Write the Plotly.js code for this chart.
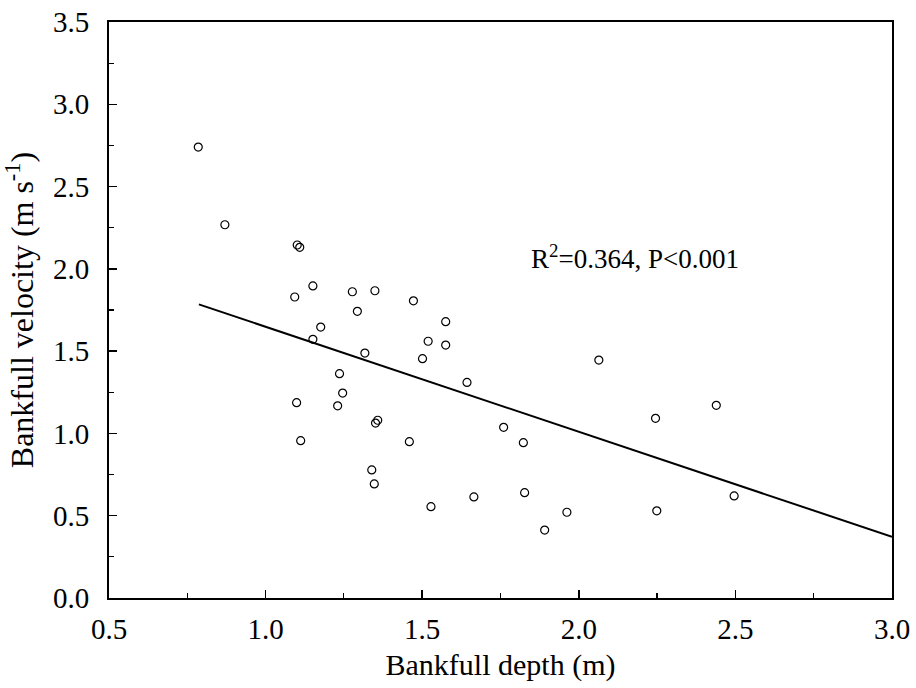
<!DOCTYPE html>
<html>
<head>
<meta charset="utf-8">
<script src="https://cdn.plot.ly/plotly-3.0.1.min.js"></script>
<style>html,body{margin:0;padding:0;background:#fff;}#chart{width:916px;height:688px;}</style>
</head>
<body>
<div id="chart"></div>
<script>
// Observed points
const depth = [0.785, 0.870, 1.101, 1.109, 1.151, 1.093, 1.277, 1.349, 1.472, 1.293,
               1.176, 1.151, 1.575, 1.519, 1.575, 1.317, 1.501, 1.643, 2.064, 1.236,
               1.246, 1.230, 1.099, 1.358, 1.351, 1.112, 1.459, 1.760, 1.823, 2.245,
               2.439, 1.339, 1.347, 1.528, 1.665, 1.827, 1.891, 1.962, 2.249, 2.496];
const velocity = [2.740, 2.268, 2.145, 2.131, 1.896, 1.829, 1.861, 1.867, 1.806, 1.742,
                  1.646, 1.572, 1.679, 1.560, 1.537, 1.488, 1.454, 1.310, 1.446, 1.363,
                  1.245, 1.168, 1.187, 1.080, 1.063, 0.956, 0.950, 1.037, 0.944, 1.092,
                  1.171, 0.778, 0.693, 0.555, 0.614, 0.640, 0.413, 0.521, 0.530, 0.620];
// Regression line end points
const fitX = [0.787, 3.0];
const fitY = [1.784, 0.372];
const xTicks = [0.5, 1.0, 1.5, 2.0, 2.5, 3.0];
const xTickText = ['0.5', '1.0', '1.5', '2.0', '2.5', '3.0'];
const yTicks = [0.0, 0.5, 1.0, 1.5, 2.0, 2.5, 3.0, 3.5];
const yTickText = ['0.0', '0.5', '1.0', '1.5', '2.0', '2.5', '3.0', '3.5'];
const statText = 'R<sup>2</sup>=0.364, P&lt;0.001';

const font = '"Liberation Serif", "Times New Roman", serif';

const traces = [
  {x: fitX, y: fitY, type: 'scatter', mode: 'lines',
   line: {color: '#000', width: 2}, hoverinfo: 'skip', showlegend: false},
  {x: depth, y: velocity, type: 'scatter', mode: 'markers',
   marker: {symbol: 'circle-open', size: 8, color: '#000', line: {width: 1.2, color: '#000'}},
   showlegend: false}
];

function axisBase() {
  return {
    showgrid: false, zeroline: false, showline: true, linecolor: '#000', linewidth: 2,
    mirror: true, ticks: 'inside', ticklen: 8, tickwidth: 1.5, tickcolor: '#000',
    tickfont: {family: font, size: 29, color: '#000'},
    minor: {ticks: 'inside', ticklen: 5, tickwidth: 1.2, tickcolor: '#000', dtick: 0.25}
  };
}

const layout = {
  width: 916, height: 688,
  margin: {l: 109, r: 24, t: 22, b: 90},
  paper_bgcolor: '#fff', plot_bgcolor: '#fff',
  font: {family: font, color: '#000'},
  xaxis: Object.assign(axisBase(), {
    range: [0.5, 3.0], tickvals: xTicks, ticktext: xTickText,
    ticklabelstandoff: 4,
    title: {text: 'Bankfull depth (m)', font: {family: font, size: 30, color: '#000'}, standoff: 10}
  }),
  yaxis: Object.assign(axisBase(), {
    range: [0, 3.5], tickvals: yTicks, ticktext: yTickText,
    ticklabelstandoff: 12,
    title: {text: 'Bankfull velocity (m s<sup>-1</sup>)', font: {family: font, size: 32, color: '#000'}, standoff: 10}
  }),
  annotations: [{
    x: 1.84, y: 2.07, xref: 'x', yref: 'y', xanchor: 'left', yanchor: 'middle',
    text: statText, showarrow: false, font: {family: font, size: 27, color: '#000'}
  }]
};

Plotly.newPlot('chart', traces, layout, {displayModeBar: false, staticPlot: true});
</script>
</body>
</html>
